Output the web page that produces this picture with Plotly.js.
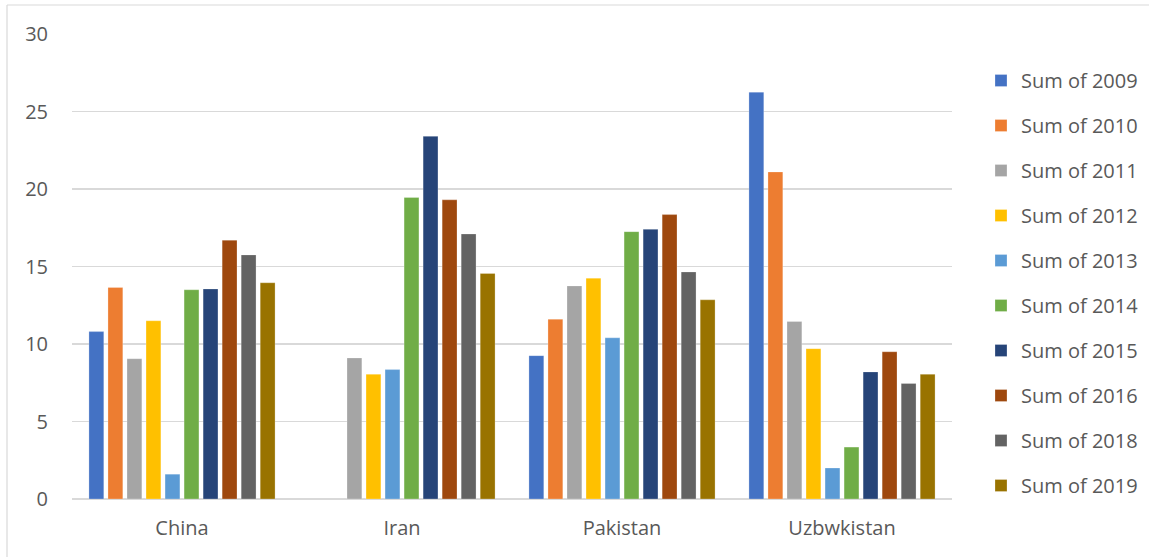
<!DOCTYPE html>
<html>
<head>
<meta charset="utf-8">
<script src="https://cdn.plot.ly/plotly-3.0.1.min.js"></script>
<style>html,body{margin:0;padding:0;background:#fff;}#chart{width:1149px;height:557px;}</style>
</head>
<body>
<div id="chart"></div>
<script>
const countries = ["China", "Iran", "Pakistan", "Uzbwkistan"];
const seriesNames = ["Sum of 2009", "Sum of 2010", "Sum of 2011", "Sum of 2012", "Sum of 2013",
                     "Sum of 2014", "Sum of 2015", "Sum of 2016", "Sum of 2018", "Sum of 2019"];
const sum2009 = [10.8, null, 9.25, 26.25];
const sum2010 = [13.65, null, 11.6, 21.1];
const sum2011 = [9.05, 9.1, 13.75, 11.45];
const sum2012 = [11.5, 8.05, 14.25, 9.7];
const sum2013 = [1.6, 8.35, 10.4, 2.0];
const sum2014 = [13.5, 19.45, 17.25, 3.35];
const sum2015 = [13.55, 23.4, 17.4, 8.2];
const sum2016 = [16.7, 19.3, 18.35, 9.5];
const sum2018 = [15.75, 17.1, 14.65, 7.45];
const sum2019 = [13.95, 14.55, 12.85, 8.05];
const seriesValues = [sum2009, sum2010, sum2011, sum2012, sum2013, sum2014, sum2015, sum2016, sum2018, sum2019];
const colors = ["#4472C4", "#ED7D31", "#A5A5A5", "#FFC000", "#5B9BD5",
                "#70AD47", "#264478", "#9E480E", "#636363", "#997300"];

const W = 1149, H = 557;
const L = 72, R = 197, T = 34, B = 58;
const pw = W - L - R, ph = H - T - B;
const px = x => (x - L) / pw;
const py = y => (H - B - y) / ph;

const traces = seriesNames.map((name, i) => ({
  type: "bar",
  name: name,
  x: countries,
  y: seriesValues[i],
  legendgroup: "g" + i,
  marker: {color: colors[i], line: {color: "rgba(255,255,255,0.5)", width: 0.5}},
  hoverinfo: "x+y+name"
}));

const font = "'Open Sans', 'Noto Sans', sans-serif";
const layout = {
  width: W, height: H,
  margin: {l: L, r: R, t: T, b: B, pad: 0, autoexpand: false},
  paper_bgcolor: "#ffffff",
  plot_bgcolor: "#ffffff",
  barmode: "group",
  bargap: 0.135,
  bargroupgap: 0.22,
  showlegend: true,
  font: {family: font, color: "#595959", size: 20},
  xaxis: {
    type: "category",
    showgrid: false,
    zeroline: false,
    showline: false,
    ticks: "",
    ticklabelstandoff: 15,
    tickfont: {family: font, size: 20, color: "#595959"},
    fixedrange: true
  },
  yaxis: {
    range: [0, 30],
    tickvals: [0, 5, 10, 15, 20, 25, 30],
    showgrid: true,
    gridcolor: "#D9D9D9",
    gridwidth: 1.2,
    zeroline: true,
    zerolinecolor: "#D9D9D9",
    zerolinewidth: 1.2,
    showline: false,
    ticks: "",
    ticklabelstandoff: 23,
    tickfont: {family: font, size: 20, color: "#595959"},
    fixedrange: true
  },
  legend: {
    x: px(981), xanchor: "left",
    y: py(61), yanchor: "top",
    traceorder: "grouped",
    tracegroupgap: 16,
    itemwidth: 30,
    bgcolor: "rgba(0,0,0,0)",
    font: {family: font, size: 20, color: "#595959"}
  },
  shapes: [
    {type: "line", xref: "paper", yref: "paper", x0: px(7), x1: px(1160), y0: py(5), y1: py(5),
     line: {color: "#D9D9D9", width: 1.2}},
    {type: "line", xref: "paper", yref: "paper", x0: px(7), x1: px(7), y0: py(5), y1: py(570),
     line: {color: "#D9D9D9", width: 1.2}}
  ]
};

Plotly.newPlot("chart", traces, layout, {displayModeBar: false, staticPlot: true});
</script>
</body>
</html>
